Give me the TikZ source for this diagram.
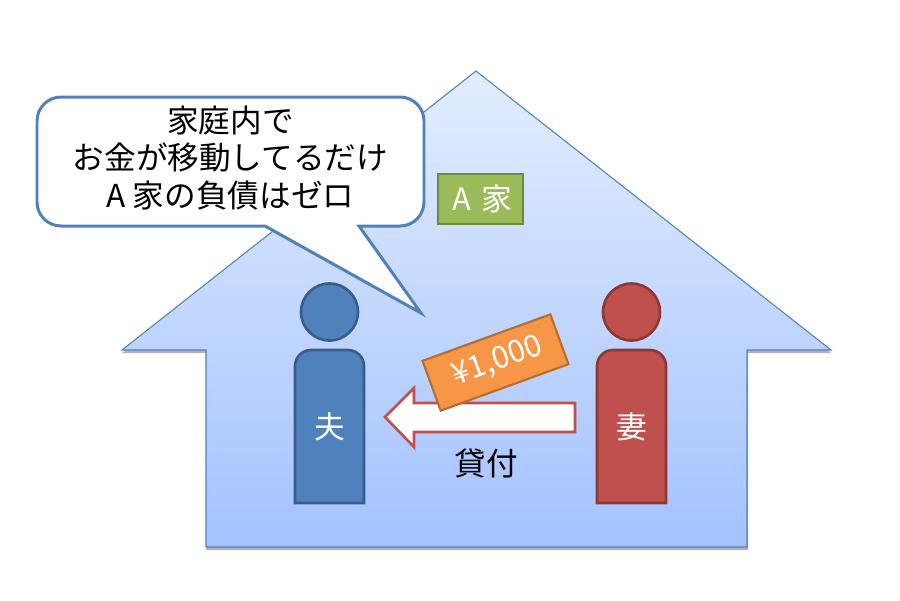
\documentclass[tikz,border=0pt]{standalone}
\usepackage{fontspec}
\setmainfont{Noto Sans CJK JP}
\usetikzlibrary{positioning}
\definecolor{husband}{HTML}{4F81BD}
\definecolor{husbandline}{HTML}{385D8A}
\definecolor{wife}{HTML}{C0504D}
\definecolor{wifeline}{HTML}{8C3836}
\definecolor{housetop}{HTML}{E3EDFF}
\definecolor{housebottom}{HTML}{A3C2FF}
\definecolor{billfill}{HTML}{F79646}
\definecolor{billline}{HTML}{B66D31}
\definecolor{signfill}{HTML}{9BBB59}
\definecolor{signline}{HTML}{71893F}
\tikzset{
    person/.style={line width=1.5pt},
    namelabel/.style={text=white,font=\fontsize{17.5}{21}\selectfont},
    blacklabel/.style={text=black,font=\fontsize{18}{21.5}\selectfont,align=center},
}
\begin{document}
\begin{tikzpicture}[x=0.02cm,y=-0.02cm]
    \useasboundingbox (0,0) rectangle (900,600);

    % Haus
    \fill[black,opacity=0.3] (476,74) -- (831,353) -- (748,353) -- (748,550) -- (206,550) -- (206,353) -- (122,353) -- cycle;
    \draw[husband,line width=0.6pt,top color=housetop,bottom color=housebottom] (476,71) -- (831,350) -- (747,350) -- (747,547) -- (206,547) -- (206,350) -- (122,350) -- cycle;

    % Sprechblase
    \draw[husband,line width=1.7pt,fill=white]
        (37,160) [rounded corners=0.48cm] -- (37,97) -- (424,97) -- (424,226) [sharp corners] -- (359,226) -- (421,313) -- (265,226) [rounded corners=0.48cm] -- (37,226) -- cycle;
    \node[blacklabel] (speech) at (230.5,158) {家庭内で\\お金が移動してるだけ\\A 家の負債はゼロ};

    % Personen
    \foreach \name/\x/\col/\linecol/\txt in {husband/329.5/husband/husbandline/夫,wife/631.5/wife/wifeline/妻} {
        \draw[person,draw=\linecol,fill=\col] (\x,312) circle[radius=28.5];
        \draw[person,draw=\linecol,fill=\col] (\x-34.5,503) [rounded corners=0.32cm] -- (\x-34.5,350) -- (\x+34.5,350) [sharp corners] -- (\x+34.5,503) -- cycle;
        \node[namelabel] (\name) at (\x,427) {\txt};
    }

    % Pfeil
    \draw[wife,line width=1.5pt,fill=white] (575,403) -- (414,403) -- (414,388) -- (385,417) -- (414,447) -- (414,432) -- (575,432) -- cycle;
    \node[blacklabel] (loan) at (486.5,463) {貸付};

    % Geldschein
    \node[draw=billline,line width=1.2pt,fill=billfill,rotate=20,minimum width=2.72cm,minimum height=1.06cm,namelabel,inner sep=0pt,text width=2.72cm,align=center] (bill) at (495.5,362.5) {\hspace{3pt}¥1,000};

    % Schild
    \node[draw=signline,line width=1.5pt,fill=signfill,minimum width=1.7cm,minimum height=1cm,namelabel,inner sep=0pt,text width=1.7cm,align=center] (family) at (480.5,199) {\hspace{2pt}A 家};
\end{tikzpicture}
\end{document}
